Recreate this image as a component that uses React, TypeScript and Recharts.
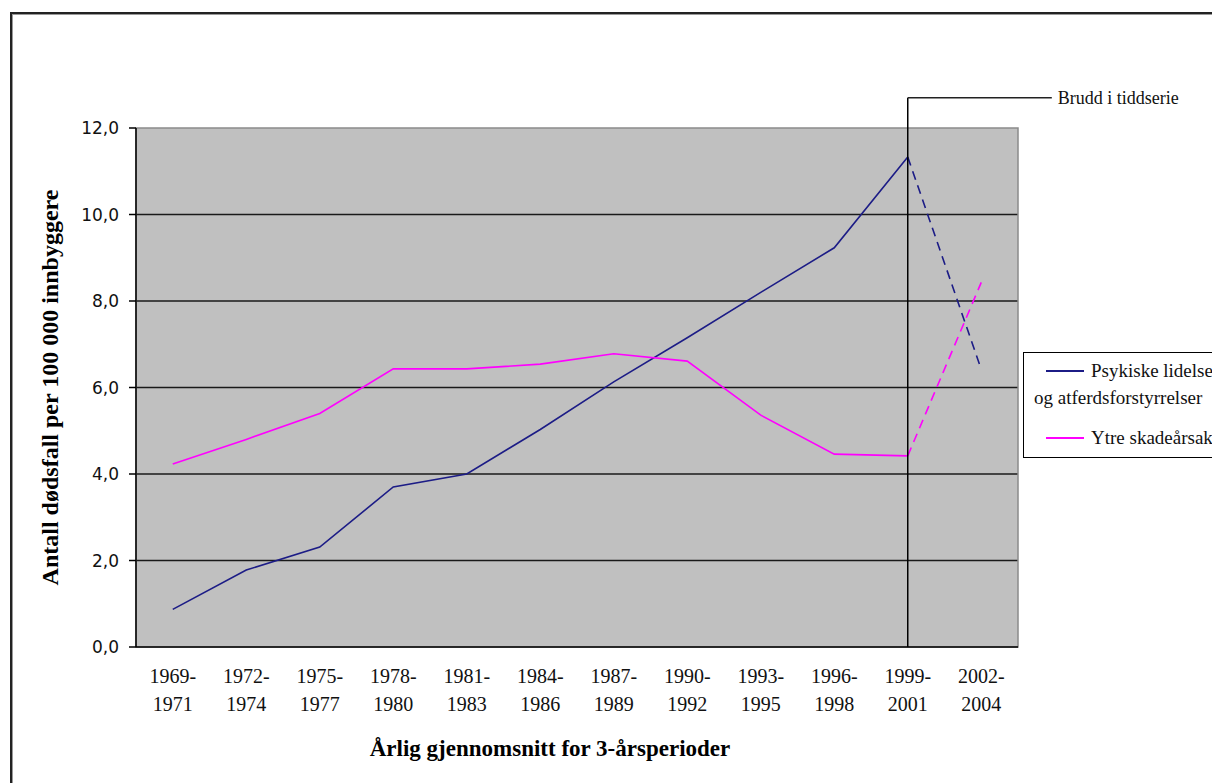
import { LineChart, Line, XAxis, YAxis, CartesianGrid, ReferenceLine, ReferenceArea, Legend } from "recharts";

const periods = ["1969-1971", "1972-1974", "1975-1977", "1978-1980", "1981-1983", "1984-1986", "1987-1989", "1990-1992", "1993-1995", "1996-1998", "1999-2001", "2002-2004"];
const psykiske = [0.87, 1.78, 2.31, 3.7, 4.0, 5.03, 6.13, 7.15, 8.2, 9.23, 11.33, 6.42];
const ytre = [4.23, 4.8, 5.4, 6.43, 6.43, 6.54, 6.78, 6.61, 5.36, 4.46, 4.42, 8.43];
const yTicks = [0, 2, 4, 6, 8, 10, 12];

// series break: solid up to this period, dashed after it
const BREAK = 10;
const breakLabelY = 12.7;
const breakLabelX = 11.96;

// axis 0 carries the tick marks between periods, axis 1 the period labels
const MARKS = 0;
const LABELS = 1;

const data = periods.map((p, i) => ({
  i,
  period: p,
  psyk: i <= BREAK ? psykiske[i] : null,
  ytre: i <= BREAK ? ytre[i] : null,
  psykBrudd: i >= BREAK ? psykiske[i] : null,
  ytreBrudd: i >= BREAK ? ytre[i] : null,
}));

const domainX: [number, number] = [-0.5, periods.length - 0.5];
const boundaryTicks = [...periods.map((_, i) => i - 0.5), periods.length - 0.5];
const centerTicks = periods.map((_, i) => i);

const SERIF = "'Liberation Serif', 'Times New Roman', serif";

const PeriodTick = ({ x, y, payload }: any) => {
  const [a, b] = periods[payload.value].split("-");
  return (
    <text x={x} y={y} textAnchor="middle" fill="#111" fontSize={20} fontFamily={SERIF}>
      <tspan x={x} dy={20}>{a}-</tspan>
      <tspan x={x} dy={28}>{b}</tspan>
    </text>
  );
};

const LegendBox = ({ payload }: any) => {
  const items = (payload || []).filter((p: any) => p.type !== "none");
  return (
    <div style={{ marginLeft: 5, width: 230, boxSizing: "border-box", border: "1px solid #000", background: "#fff", padding: "4px 0 6px 10px", fontFamily: SERIF, fontSize: 19, color: "#111" }}>
      {items.map((p: any, k: number) => (
        <div key={p.value} style={{ position: "relative", width: 205, textIndent: 57, lineHeight: "27px", marginTop: k ? 13 : 0 }}>
          <span style={{ position: "absolute", left: 12, top: 13, width: 38, height: 0, borderTop: `2px solid ${p.color}` }} />
          {p.value}
        </div>
      ))}
    </div>
  );
};

export default function App() {
  return (
    <div style={{ position: "absolute", left: 0, top: 0, width: 1212, height: 783, overflow: "hidden", background: "#fff" }}>
      <div style={{ position: "absolute", left: 10, top: 12, width: 1300, height: 900, border: "2px solid #222", boxShadow: "inset 1px 1px 0 #999" }} />
      <div style={{ position: "absolute", left: 0, top: 0 }}>
        <LineChart width={1253} height={783} data={data} margin={{ top: 128, right: 0, bottom: 15, left: 0 }}>
          <CartesianGrid xAxisId={LABELS} vertical={false} horizontalValues={[2, 4, 6, 8, 10]} fill="#c0c0c0" stroke="#1a1a1a" strokeWidth={1.5} />
          <ReferenceArea xAxisId={LABELS} x1={domainX[0]} x2={domainX[1]} y1={0} y2={12} fill="none" stroke="#8a8a8a" strokeWidth={1.5} />
          <XAxis xAxisId={MARKS} type="number" dataKey="i" domain={domainX} ticks={boundaryTicks} tick={false} tickSize={7} height={8} stroke="#000" strokeWidth={1.5} allowDataOverflow />
          <XAxis xAxisId={LABELS} type="number" dataKey="i" domain={domainX} ticks={centerTicks} tick={<PeriodTick />} tickLine={false} axisLine={false} height={113} allowDataOverflow
            label={{ value: "Årlig gjennomsnitt for 3-årsperioder", position: "insideBottom", offset: 12, dx: -27, fontFamily: SERIF, fontSize: 23, fontWeight: "bold", fill: "#000" }} />
          <YAxis domain={[0, 12]} ticks={yTicks} width={136} tickSize={7} tickMargin={10} stroke="#000" strokeWidth={1.5}
            tickFormatter={(v: number) => v.toFixed(1).replace(".", ",")}
            tick={{ fill: "#111", fontSize: 17, fontFamily: "'DejaVu Sans', sans-serif" }}
            label={{ value: "Antall dødsfall per 100 000 innbyggere", angle: -90, position: "center", dx: -19, fontFamily: SERIF, fontSize: 24, fontWeight: "bold", fill: "#000" }} />
          <Line xAxisId={LABELS} dataKey="psyk" name="Psykiske lidelser og atferdsforstyrrelser" stroke="#1c1c86" strokeWidth={1.6} dot={false} isAnimationActive={false} />
          <Line xAxisId={LABELS} dataKey="ytre" name="Ytre skadeårsaker" stroke="#ff00ff" strokeWidth={1.6} dot={false} isAnimationActive={false} />
          <Line xAxisId={LABELS} dataKey="psykBrudd" stroke="#1c1c86" strokeWidth={1.6} strokeDasharray="9 6" dot={false} legendType="none" isAnimationActive={false} />
          <Line xAxisId={LABELS} dataKey="ytreBrudd" stroke="#ff00ff" strokeWidth={1.6} strokeDasharray="9 6" dot={false} legendType="none" isAnimationActive={false} />
          <ReferenceLine xAxisId={LABELS} ifOverflow="visible" segment={[{ x: BREAK, y: 0 }, { x: BREAK, y: breakLabelY }]} stroke="#000" strokeWidth={1.5} />
          <ReferenceLine xAxisId={LABELS} ifOverflow="visible" segment={[{ x: BREAK, y: breakLabelY }, { x: breakLabelX, y: breakLabelY }]} stroke="#222" strokeWidth={1.5}
            label={{ value: "Brudd i tiddserie", position: "right", offset: 6, fontFamily: SERIF, fontSize: 18, fill: "#111" }} />
          <Legend layout="vertical" align="right" verticalAlign="middle" wrapperStyle={{ top: 352 }} content={<LegendBox />} />
        </LineChart>
      </div>
    </div>
  );
}
